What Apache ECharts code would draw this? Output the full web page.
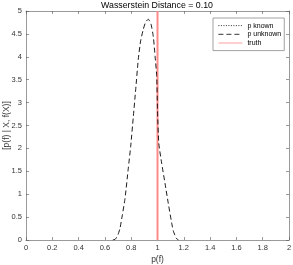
<!DOCTYPE html>
<html><head><meta charset="utf-8">
<script src="https://cdn.jsdelivr.net/npm/echarts@6/dist/echarts.min.js"></script>
<style>html,body{margin:0;padding:0;background:#fff}#c{width:293px;height:265px}</style>
</head><body><div id="c"></div>
<script>
const titleText = 'Wasserstein Distance = 0.10';
const xLabel = 'p(f)';
const yLabel = '[p(f) | X, f(X)]';
const seriesNames = ['p known', 'p unknown', 'truth'];
const pKnownX = [];
const pKnownY = [];
const pUnknownX = [0.66,0.68,0.70,0.715,0.73,0.753,0.778,0.796,0.816,0.834,0.854,0.872,0.892,0.91,0.93,0.95,0.968,0.982,0.994,1.0,1.01,1.032,1.057,1.082,1.108,1.12,1.133,1.145,1.16];
const pUnknownY = [0,0.02,0.12,0.26,0.5,0.91,1.57,2.04,2.69,3.28,3.95,4.35,4.6,4.76,4.82,4.72,4.44,4.0,3.57,2.84,2.11,1.67,1.24,0.8,0.37,0.2,0.1,0.03,0];
const truthX = [1, 1];
const truthY = [0, 5];
const xTicks = {min: 0, max: 2, interval: 0.2};
const yTicks = {min: 0, max: 5, interval: 0.5};

const zip = (a, b) => a.map((v, i) => [v, b[i]]);
const font = 'Liberation Sans, Arial, sans-serif';
const tickCol = '#333';
const axisBase = () => ({
  axisLine: {show: true, onZero: false, lineStyle: {color: '#555', width: 0.6}},
  axisTick: {show: true, inside: true, length: 3, lineStyle: {color: '#555', width: 0.6}},
  splitLine: {show: false},
});
const fmt = v => String(Math.round(v * 10) / 10);
const chart = echarts.init(document.getElementById('c'), null, {renderer: 'canvas'});
chart.setOption({
  animation: false,
  backgroundColor: '#fff',
  title: {text: titleText, left: 157, top: 1, padding: 0, textAlign: 'center',
    textStyle: {fontFamily: font, fontSize: 8.8, fontWeight: 'normal', color: '#000'}},
  legend: {
    data: seriesNames, orient: 'vertical', left: 213, top: 18,
    padding: [4, 3, 4, 5], itemGap: 1.5, itemWidth: 24, itemHeight: 9,
    backgroundColor: '#fff', borderColor: '#8a8a8a', borderWidth: 0.8,
    itemStyle: {opacity: 0},
    lineStyle: {width: 0.8},
    textStyle: {fontFamily: font, fontSize: 7, color: '#000'}
  },
  grid: {left: 26, right: 4, top: 11, bottom: 25, containLabel: false, outerBoundsMode: 'none'},
  xAxis: [
    Object.assign({type: 'value', position: 'bottom', min: xTicks.min, max: xTicks.max, interval: xTicks.interval,
      name: xLabel, nameLocation: 'middle', nameGap: 15, nameMoveOverlap: false,
      nameTextStyle: {fontFamily: font, fontSize: 8.5, color: tickCol},
      axisLabel: {fontFamily: font, fontSize: 7.5, color: tickCol, margin: 4, formatter: fmt}}, axisBase()),
    Object.assign({type: 'value', position: 'top', min: xTicks.min, max: xTicks.max, interval: xTicks.interval,
      axisLabel: {show: false}}, axisBase())
  ],
  yAxis: [
    Object.assign({type: 'value', position: 'left', min: yTicks.min, max: yTicks.max, interval: yTicks.interval,
      name: yLabel, nameLocation: 'middle', nameGap: 15, nameRotate: 90, nameMoveOverlap: false,
      nameTextStyle: {fontFamily: font, fontSize: 8.5, color: tickCol},
      axisLabel: {fontFamily: font, fontSize: 7.5, color: tickCol, margin: 4, formatter: fmt}}, axisBase()),
    Object.assign({type: 'value', position: 'right', min: yTicks.min, max: yTicks.max, interval: yTicks.interval,
      axisLabel: {show: false}}, axisBase())
  ],
  series: [
    {name: seriesNames[0], type: 'line', data: zip(pKnownX, pKnownY), showSymbol: false, symbol: 'none',
      lineStyle: {color: '#000', width: 0.8, type: [1, 1.5]}, itemStyle: {color: '#000'}},
    {name: seriesNames[1], type: 'line', data: zip(pUnknownX, pUnknownY), showSymbol: false, symbol: 'none', smooth: 0.2,
      lineStyle: {color: '#000', width: 0.9, type: [5, 3]}, itemStyle: {color: '#000'}, z: 3},
    {name: seriesNames[2], type: 'line', data: zip(truthX, truthY), showSymbol: false, symbol: 'none',
      lineStyle: {color: '#ff8888', width: 2}, itemStyle: {color: '#ff8888'}, z: 2}
  ]
});
</script></body></html>
